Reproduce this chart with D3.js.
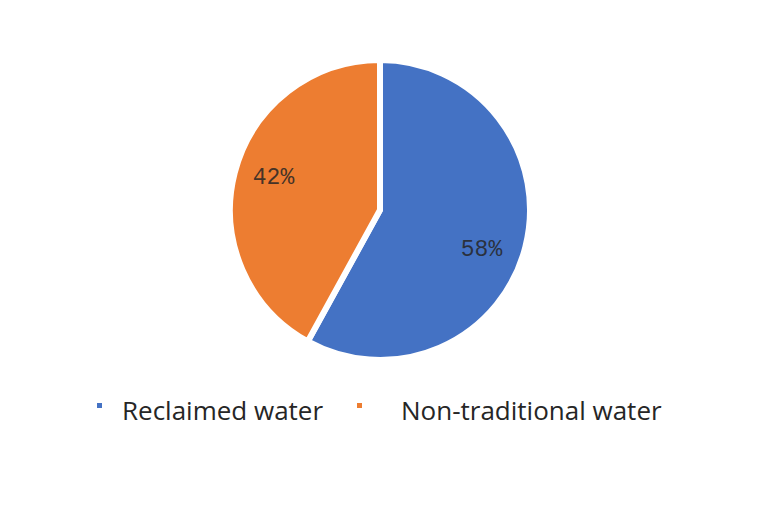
<!DOCTYPE html>
<html>
<head>
<meta charset="utf-8">
<script src="https://cdn.jsdelivr.net/npm/d3@7"></script>
<style>
  body { margin: 0; background: #fff; }
</style>
</head>
<body>
<div id="chart-area"></div>
<script>
var width = 758, height = 508;

// data
var categories = ["Reclaimed water", "Non-traditional water"];
var shares = [58, 42];
var colors = ["#4472C4", "#ED7D31"];

var svg = d3.select("#chart-area")
    .append("svg")
    .attr("width", width)
    .attr("height", height);

var cx = 380, cy = 210, radius = 150;

var pie = d3.pie()
    .sort(null)
    .value(function (d) { return d; });

var arc = d3.arc()
    .innerRadius(0)
    .outerRadius(radius);

var labelArc = d3.arc()
    .innerRadius(radius * 0.74)
    .outerRadius(radius * 0.74);

var color = d3.scaleOrdinal()
    .domain(categories)
    .range(colors);

var g = svg.append("g")
    .attr("transform", "translate(" + cx + "," + cy + ")");

var slices = pie(shares);

g.selectAll("path")
    .data(slices)
    .enter()
    .append("path")
    .attr("d", arc)
    .attr("fill", function (d, i) { return color(categories[i]); })
    .attr("stroke", "#fff")
    .attr("stroke-width", 6);

// percentage labels (small nudge so they sit like the original)
var nudge = [[-6, 10], [1, -6]];
g.selectAll("text.pct")
    .data(slices)
    .enter()
    .append("text")
    .attr("class", "pct")
    .attr("transform", function (d, i) {
        var c = labelArc.centroid(d);
        return "translate(" + (c[0] + nudge[i][0]) + "," + (c[1] + nudge[i][1]) + ")";
    })
    .attr("text-anchor", "middle")
    .attr("dy", "0.35em")
    .style("font-family", "'Liberation Mono', monospace")
    .style("font-size", "23px")
    .attr("fill", "#262626")
    .attr("fill-opacity", 0.85)
    .text(function (d) { return d.data + "%"; });

// legend
var legendX = [97, 357];
var legend = svg.selectAll("g.legend")
    .data(categories)
    .enter()
    .append("g")
    .attr("class", "legend")
    .attr("transform", function (d, i) { return "translate(" + legendX[i] + ",403)"; });

legend.append("rect")
    .attr("width", 5)
    .attr("height", 5)
    .attr("fill", function (d) { return color(d); });

legend.append("text")
    .attr("x", function (d, i) { return i === 0 ? 25 : 44; })
    .attr("y", 17)
    .style("font-family", "'Open Sans', sans-serif")
    .style("font-size", "26px")
    .attr("fill", "#262626")
    .text(function (d) { return d; });
</script>
</body>
</html>
